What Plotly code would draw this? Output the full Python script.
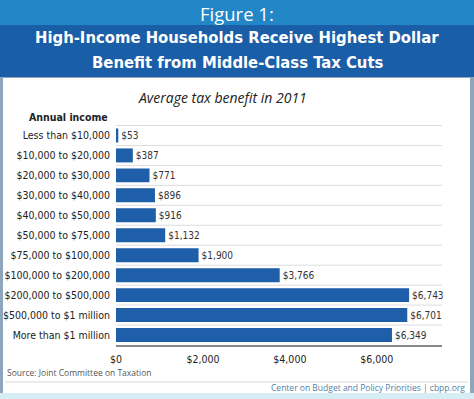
import plotly.graph_objects as go

categories = ["Less than $10,000", "$10,000 to $20,000", "$20,000 to $30,000",
              "$30,000 to $40,000", "$40,000 to $50,000", "$50,000 to $75,000",
              "$75,000 to $100,000", "$100,000 to $200,000", "$200,000 to $500,000",
              "$500,000 to $1 million", "More than $1 million"]
benefit = [53, 387, 771, 896, 916, 1132, 1900, 3766, 6743, 6701, 6349]
x_ticks = [0, 2000, 4000, 6000]
x_tick_labels = ["$0", "$2,000", "$4,000", "$6,000"]

W, H = 474, 399
L, R, T, B = 116, 442, 125, 345


def px(x):
    return (x - L) / (R - L)


def py(y):
    return (B - y) / (B - T)


NARROW = "DejaVu Sans Condensed, DejaVu Sans, sans-serif"
BAR = "#1f5ea8"

fig = go.Figure(go.Bar(
    x=benefit, y=categories, orientation="h",
    marker=dict(color=BAR, line=dict(width=0)),
    text=[f"${v:,}" for v in benefit], textposition="outside",
    textfont=dict(family=NARROW, size=10, color="#333333"),
    cliponaxis=False, width=0.7,
))

shapes = []
# frame
shapes.append(dict(type="rect", xref="paper", yref="paper", x0=px(3), x1=px(470),
                   y0=py(393), y1=py(78), fillcolor="white", line=dict(width=0), layer="below"))
shapes.append(dict(type="rect", xref="paper", yref="paper", x0=px(0), x1=px(474),
                   y0=py(399), y1=py(393), fillcolor="#d6edf4", line=dict(width=0), layer="below"))
shapes.append(dict(type="rect", xref="paper", yref="paper", x0=px(0), x1=px(474),
                   y0=py(25), y1=py(0), fillcolor="#2386c6", line=dict(width=0), layer="below"))
shapes.append(dict(type="rect", xref="paper", yref="paper", x0=px(0), x1=px(474),
                   y0=py(77), y1=py(25), fillcolor="#1b5ea8", line=dict(width=0), layer="below"))
# separator above footer
shapes.append(dict(type="line", xref="paper", yref="paper", x0=px(5), x1=px(468),
                   y0=py(382), y1=py(382), line=dict(color="#d8d8d8", width=1)))
# row separators
for i in range(len(categories)):
    shapes.append(dict(type="line", xref="paper", yref="y", x0=0, x1=1,
                       y0=i - 0.5, y1=i - 0.5, line=dict(color="#dcdcdc", width=1), layer="below"))

annotations = [
    dict(text="Figure 1:", x=px(237), y=py(13), xref="paper", yref="paper", showarrow=False,
         font=dict(family="Open Sans, sans-serif", size=18.5, color="white"), xanchor="center", yanchor="middle"),
    dict(text="<b>High-Income Households Receive Highest Dollar</b>", x=px(237), y=py(38),
         xref="paper", yref="paper", showarrow=False,
         font=dict(family=NARROW, size=16.5, color="white"), xanchor="center", yanchor="middle"),
    dict(text="<b>Benefit from Middle-Class Tax Cuts</b>", x=px(237), y=py(62),
         xref="paper", yref="paper", showarrow=False,
         font=dict(family=NARROW, size=16.5, color="white"), xanchor="center", yanchor="middle"),
    dict(text="<i>Average tax benefit in 2011</i>", x=px(222), y=py(97), xref="paper", yref="paper",
         showarrow=False, font=dict(family="Open Sans, sans-serif", size=14, color="#222222"),
         xanchor="center", yanchor="middle"),
    dict(text="<b>Annual income</b>", x=px(110), y=py(117), xref="paper", yref="paper",
         showarrow=False, font=dict(family=NARROW, size=10.5, color="#222222"),
         xanchor="right", yanchor="middle"),
    dict(text="Source: Joint Committee on Taxation", x=px(5), y=py(372), xref="paper", yref="paper",
         showarrow=False, font=dict(family="Open Sans, sans-serif", size=8.5, color="#555555"),
         xanchor="left", yanchor="middle"),
    dict(text="Center on Budget and Policy Priorities | cbpp.org", x=px(467), y=py(387),
         xref="paper", yref="paper", showarrow=False,
         font=dict(family="Open Sans, sans-serif", size=8.5, color="#4f7fa8"),
         xanchor="right", yanchor="middle"),
]

fig.update_layout(
    width=W, height=H,
    margin=dict(l=L, r=W - R, t=T, b=H - B, pad=0, autoexpand=False),
    paper_bgcolor="#8ea6bd", plot_bgcolor="rgba(0,0,0,0)",
    showlegend=False, bargap=0.3,
    shapes=shapes, annotations=annotations,
    xaxis=dict(range=[0, 7500], tickvals=x_ticks, ticktext=x_tick_labels, automargin=False,
               showgrid=False, zeroline=False, showline=True, linecolor="#888888", linewidth=2,
               ticks="", ticklabelstandoff=3,
               tickfont=dict(family=NARROW, size=10.5, color="#222222"), fixedrange=True),
    yaxis=dict(autorange="reversed", showgrid=False, zeroline=False, ticks="", automargin=False,
               ticklabelstandoff=5, tickfont=dict(family=NARROW, size=10.5, color="#222222"),
               showline=False, fixedrange=True),
)

fig.write_html("out.html", config={"displayModeBar": False, "staticPlot": True},
               post_script="document.body.style.margin='0';document.body.style.overflow='hidden';")
